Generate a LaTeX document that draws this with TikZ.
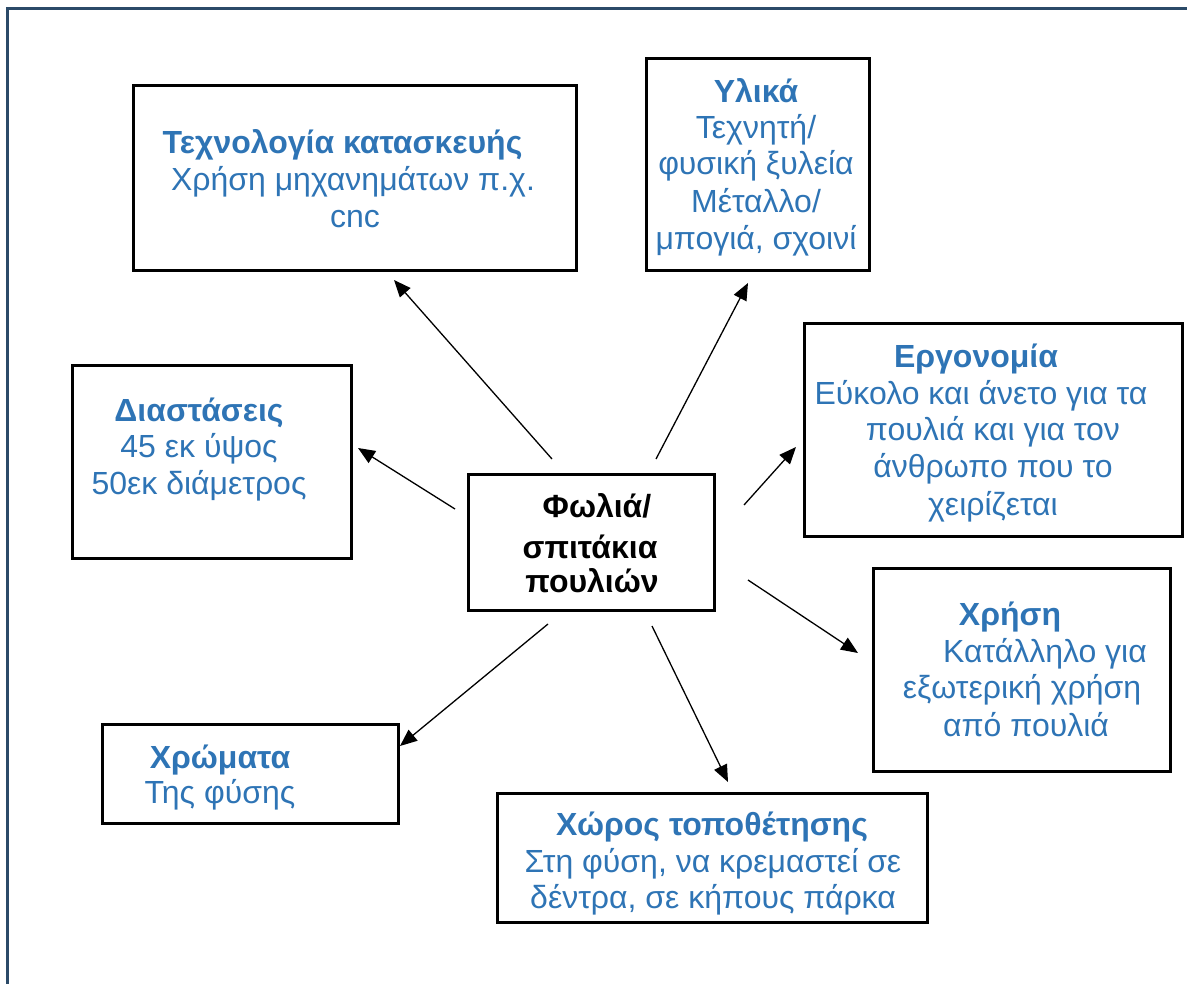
\documentclass[tikz,border=0pt]{standalone}
\usepackage{fontspec}
\setmainfont{Liberation Sans}
\usetikzlibrary{arrows.meta}
\definecolor{txtblue}{RGB}{46,116,181}
\definecolor{framec}{RGB}{43,74,104}
\begin{document}
\begin{tikzpicture}[x=1pt,y=-1pt,
  box/.style={draw=black,line width=3pt,inner sep=0pt,outer sep=0pt},
  tl/.style={anchor=base,inner sep=0pt,text=txtblue,font=\fontsize{32}{37}\selectfont},
  tb/.style={tl,font=\fontsize{32}{37}\selectfont\bfseries},
  tc/.style={tb,text=black},
  arr/.style={draw=black,line width=1.3pt,-{Triangle[length=17pt,width=14pt]}}]
\useasboundingbox (0,0) rectangle (1187,984);
\draw[framec,line width=2.6pt] (7.5,984) -- (7.5,8.5) -- (1187,8.5);

% boxes
\node[box,minimum width=443pt,minimum height=185pt] (tech) at (354.5,178.5) {};
\node[box,minimum width=223pt,minimum height=212pt] (mat) at (757.5,165) {};
\node[box,minimum width=378pt,minimum height=212pt] (ergo) at (993,430) {};
\node[box,minimum width=279pt,minimum height=192pt] (dim) at (211.5,462) {};
\node[box,minimum width=246pt,minimum height=136pt] (center) at (591,542) {};
\node[box,minimum width=297pt,minimum height=203pt] (use) at (1021.5,669.5) {};
\node[box,minimum width=296pt,minimum height=99pt] (col) at (250,773.5) {};
\node[box,minimum width=430pt,minimum height=129pt] (place) at (712,857.5) {};

% texts
\node[tb] (tech1) at (342.5,154) {Τεχνολογία κατασκευής};
\node[tl] (tech2) at (353,191) {Χρήση μηχανημάτων π.χ.};
\node[tl] (tech3) at (355,228) {cnc};

\node[tb] (mat1) at (756,103) {Υλικά};
\node[tl] (mat2) at (756,139) {Τεχνητή/};
\node[tl] (mat3) at (756,175) {φυσική ξυλεία};
\node[tl] (mat4) at (756,213) {Μέταλλο/};
\node[tl] (mat5) at (756,250) {μπογιά, σχοινί};

\node[tb] (ergo1) at (976,368) {Εργονομία};
\node[tl] (ergo2) at (981,405) {Εύκολο και άνετο για τα};
\node[tl] (ergo3) at (993,441) {πουλιά και για τον};
\node[tl] (ergo4) at (993,478) {άνθρωπο που το};
\node[tl] (ergo5) at (993,515) {χειρίζεται};

\node[tb] (dim1) at (199,421) {Διαστάσεις};
\node[tl] (dim2) at (199,457) {45 εκ ύψος};
\node[tl] (dim3) at (199,494) {50εκ διάμετρος};

\node[tc] (c1) at (597,517) {Φωλιά/};
\node[tc] (c2) at (590,558) {σπιτάκια};
\node[tc] (c3) at (592,592) {πουλιών};

\node[tb] (use1) at (1010,625) {Χρήση};
\node[tl] (use2) at (1045,662) {Κατάλληλο για};
\node[tl] (use3) at (1022,698) {εξωτερική χρήση};
\node[tl] (use4) at (1026,736) {από πουλιά};

\node[tb] (col1) at (220,768) {Χρώματα};
\node[tl] (col2) at (220,803) {Της φύσης};

\node[tb] (pl1) at (712,835) {Χώρος τοποθέτησης};
\node[tl] (pl2) at (713,872) {Στη φύση, να κρεμαστεί σε};
\node[tl] (pl3) at (713,908) {δέντρα, σε κήπους πάρκα};

% arrow end points
\coordinate (sTech) at (552,459);  \coordinate (eTech) at (394,280);
\coordinate (sMat) at (656,459);   \coordinate (eMat) at (748,283);
\coordinate (sErgo) at (744,505);  \coordinate (eErgo) at (796,447);
\coordinate (sDim) at (455,509);   \coordinate (eDim) at (358,448);
\coordinate (sUse) at (748,580);   \coordinate (eUse) at (858,653);
\coordinate (sCol) at (548,624);   \coordinate (eCol) at (400,746);
\coordinate (sPl) at (652,626);    \coordinate (ePl) at (728,782);

\draw[arr] (sTech) -- (eTech);
\draw[arr] (sMat) -- (eMat);
\draw[arr] (sErgo) -- (eErgo);
\draw[arr] (sDim) -- (eDim);
\draw[arr] (sUse) -- (eUse);
\draw[arr] (sCol) -- (eCol);
\draw[arr] (sPl) -- (ePl);
\end{tikzpicture}
\end{document}
